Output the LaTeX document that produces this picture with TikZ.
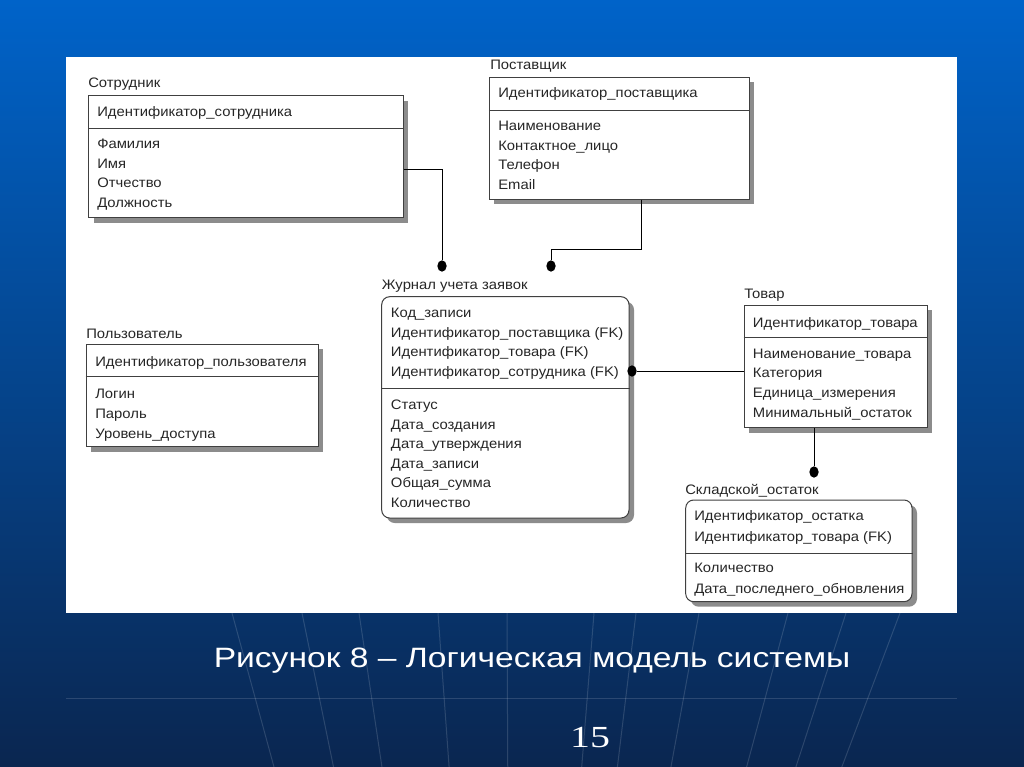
\documentclass[tikz,border=0pt]{standalone}
\usepackage{fontspec}
\setmainfont[FakeStretch=1.08]{Liberation Sans}
\newfontfamily\capfont[FakeStretch=1.2]{Liberation Sans}
\newfontfamily\numfont[FakeStretch=1.3]{Liberation Serif}
\usepackage{xcolor}
\usepackage{tikz}
\usetikzlibrary{shadows,fit,shapes.geometric}

\definecolor{slidetop}{RGB}{0,99,201}
\definecolor{slidemid}{RGB}{0,84,172}
\definecolor{slidebot}{RGB}{10,38,80}
\definecolor{shadowgray}{RGB}{140,140,140}

\tikzset{
	entity/.style={draw=black!75, line width=0.75pt, fill=white, inner sep=0pt,
		drop shadow={shadow xshift=3.75pt, shadow yshift=-3.75pt, fill=shadowgray, opacity=1}},
	entname/.style={anchor=base west, inner sep=0pt, text=black!85},
	attr/.style={anchor=base west, inner sep=0pt, text=black!85},
	keyline/.style={draw=black!75, line width=0.75pt},
	rel/.style={draw=black, line width=0.75pt},
	pin/.style={ellipse, fill=black, inner sep=0pt, minimum width=7pt, minimum height=8.5pt},
	gridline/.style={draw=white, opacity=0.14, line width=0.75pt},
}

\begin{document}
\begin{tikzpicture}[x=0.75pt, y=-0.75pt, font=\fontsize{10.3pt}{12pt}\selectfont]
							\useasboundingbox (0,0) rectangle (1024,767);

							% Фон слайда (синий градиент)
							\shade[top color=slidetop, middle color=slidemid, bottom color=slidebot] (0,0) rectangle (1024,767);

							% Линии "глобуса" внизу слайда
							\foreach \xa in {232,302,359,438,507,594,636,699,788,846,900}
								\draw[gridline] (\xa,613) -- ({512+(\xa-512)*0.85},767);
							\draw[gridline] (66,698) -- (957,698);

							% Белое поле с диаграммой
							\fill[white] (66,57) rectangle (957,613);

							% ---------------------------------------------------------
							% Сущности
							% ---------------------------------------------------------

							% Сотрудник
							\node[entity, fit={(88.7,95.7) (403,217.7)}] (sotr) {};
							\draw[keyline] (sotr.west |- 0,128.7) -- (sotr.east |- 0,128.7);
							\node[entname] (sotr-name) at (88,87.5) {Сотрудник};
							\node[attr] (sotr-id) at (97,116) {Идентификатор\_сотрудника};
							\node[attr] (sotr-a1) at (97,148.5) {Фамилия};
							\node[attr] (sotr-a2) at (97,168) {Имя};
							\node[attr] (sotr-a3) at (97,187.5) {Отчество};
							\node[attr] (sotr-a4) at (97,207) {Должность};

							% Поставщик
							\node[entity, fit={(489.3,77.3) (749.3,199)}] (post) {};
							\draw[keyline] (post.west |- 0,110) -- (post.east |- 0,110);
							\node[entname] (post-name) at (490,69.5) {Поставщик};
							\node[attr] (post-id) at (498,98) {Идентификатор\_поставщика};
							\node[attr] (post-a1) at (498,130.5) {Наименование};
							\node[attr] (post-a2) at (498,150) {Контактное\_лицо};
							\node[attr] (post-a3) at (498,169.5) {Телефон};
							\node[attr] (post-a4) at (498,189) {Email};

							% Журнал учета заявок (зависимая сущность, скругленная)
							\node[entity, rounded corners=6pt, fit={(381.7,296.7) (629,518)}] (zhur) {};
							\draw[keyline] (zhur.west |- 0,388.3) -- (zhur.east |- 0,388.3);
							\node[entname] (zhur-name) at (381.7,289.5) {Журнал учета заявок};
							\node[attr] (zhur-k1) at (390.7,317.5) {Код\_записи};
							\node[attr] (zhur-k2) at (390.7,337) {Идентификатор\_поставщика (FK)};
							\node[attr] (zhur-k3) at (390.7,356.5) {Идентификатор\_товара (FK)};
							\node[attr] (zhur-k4) at (390.7,376) {Идентификатор\_сотрудника (FK)};
							\node[attr] (zhur-a1) at (390.7,409.5) {Статус};
							\node[attr] (zhur-a2) at (390.7,429) {Дата\_создания};
							\node[attr] (zhur-a3) at (390.7,448.5) {Дата\_утверждения};
							\node[attr] (zhur-a4) at (390.7,468) {Дата\_записи};
							\node[attr] (zhur-a5) at (390.7,487.5) {Общая\_сумма};
							\node[attr] (zhur-a6) at (390.7,507) {Количество};

							% Товар
							\node[entity, fit={(744,305) (927.3,427.7)}] (tovar) {};
							\draw[keyline] (tovar.west |- 0,337.3) -- (tovar.east |- 0,337.3);
							\node[entname] (tovar-name) at (744,298.5) {Товар};
							\node[attr] (tovar-id) at (752.7,327) {Идентификатор\_товара};
							\node[attr] (tovar-a1) at (752.7,358) {Наименование\_товара};
							\node[attr] (tovar-a2) at (752.7,377.5) {Категория};
							\node[attr] (tovar-a3) at (752.7,397.5) {Единица\_измерения};
							\node[attr] (tovar-a4) at (752.7,417.5) {Минимальный\_остаток};

							% Складской остаток (зависимая сущность, скругленная)
							\node[entity, rounded corners=6pt, fit={(685.7,500) (912,601.7)}] (sklad) {};
							\draw[keyline] (sklad.west |- 0,553.3) -- (sklad.east |- 0,553.3);
							\node[entname] (sklad-name) at (685,494) {Складской\_остаток};
							\node[attr] (sklad-k1) at (694,520.5) {Идентификатор\_остатка};
							\node[attr] (sklad-k2) at (694,541) {Идентификатор\_товара (FK)};
							\node[attr] (sklad-a1) at (694,572) {Количество};
							\node[attr] (sklad-a2) at (694,593) {Дата\_последнего\_обновления};

							% Пользователь (без связей)
							\node[entity, fit={(86,344.3) (318.3,446.7)}] (polz) {};
							\draw[keyline] (polz.west |- 0,376.7) -- (polz.east |- 0,376.7);
							\node[entname] (polz-name) at (86,338.5) {Пользователь};
							\node[attr] (polz-id) at (95,366) {Идентификатор\_пользователя};
							\node[attr] (polz-a1) at (95,398) {Логин};
							\node[attr] (polz-a2) at (95,418) {Пароль};
							\node[attr] (polz-a3) at (95,438) {Уровень\_доступа};

							% ---------------------------------------------------------
							% Связи (точка = сторона "многие")
							% ---------------------------------------------------------
							\node[pin] (dot-sotr) at (442,266) {};
							\node[pin] (dot-post) at (551,266) {};
							\node[pin] (dot-zhur) at (632,371) {};
							\node[pin] (dot-sklad) at (814,472) {};

							\draw[rel] (sotr.east |- 0,169) -| (dot-sotr);
							\draw[rel] (post.south -| 641,0) |- (dot-post |- 0,249) -- (dot-post);
							\draw[rel] (dot-zhur) -- (dot-zhur -| tovar.west);
							\draw[rel] (tovar.south -| dot-sklad) -- (dot-sklad);

							% Подпись рисунка и номер слайда
							\node[anchor=base, text=white, font=\capfont\fontsize{21pt}{24pt}\selectfont] (caption) at (532,667) {Рисунок 8 – Логическая модель системы};
							\node[anchor=base, text=white, font=\numfont\fontsize{23pt}{26pt}\selectfont] (slidenum) at (590,747) {15};

						\end{tikzpicture}
\end{document}
